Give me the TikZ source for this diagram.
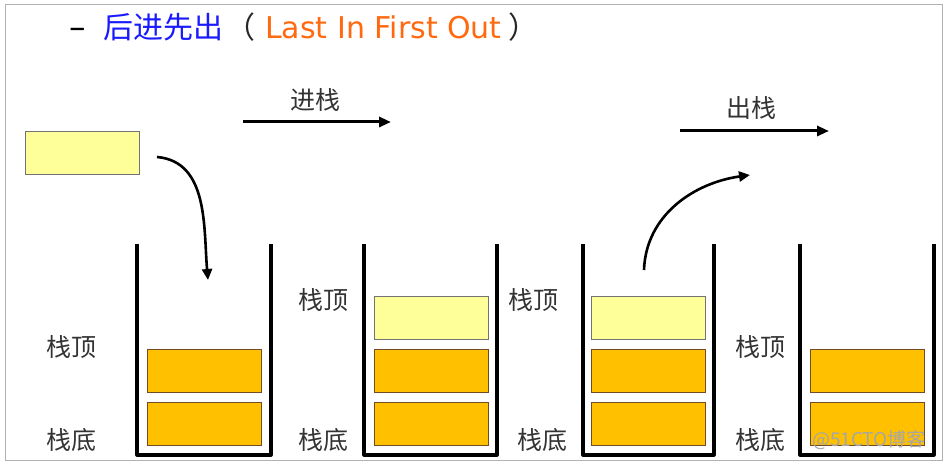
\documentclass[tikz,border=0pt]{standalone}
\usepackage{fontspec}
\setmainfont{Noto Sans CJK SC}
\newfontfamily\latinfont{DejaVu Sans}
\usetikzlibrary{arrows.meta, positioning}
\definecolor{newyellow}{HTML}{FFFF99}
\definecolor{stackorange}{HTML}{FFC000}
\definecolor{titleblue}{HTML}{1A1AFF}
\definecolor{titleorange}{HTML}{FF6A10}

\begin{document}
\begin{tikzpicture}[
  x=1pt, y=1pt,
  item/.style={draw=gray!90!black, line width=1pt, minimum width=114pt, minimum height=43pt, inner sep=0pt},
  newitem/.style={item, fill=newyellow},
  olditem/.style={item, fill=stackorange, draw=black!40!brown},
  tag/.style={font=\fontsize{25}{30}\selectfont, text=black!80, inner sep=0pt},
  headpart/.style={anchor=base west, inner sep=0pt, font=\fontsize{30}{36}\selectfont},
  tank/.style={line width=3.2pt, line join=round, line cap=butt},
  arr/.style={-{Triangle[length=12pt,width=10pt]}, line width=3pt},
  curv/.style={-{Triangle[length=11pt,width=10pt]}, line width=2.6pt}
]
  \useasboundingbox (0,0) rectangle (950,470);
  \draw[gray!60, line width=1pt] (5,9) rectangle (942,465);

  % title
  \node[headpart, font=\latinfont\fontsize{33}{36}\selectfont] (dash) at (69,431) {–};
  \node[headpart, text=titleblue] (zh) at (103,431) {后进先出};
  \node[headpart, text=black!85] (lpar) at (225,431) {（};
  \node[headpart, text=titleorange, font=\latinfont\fontsize{30}{36}\selectfont] (en) at (265,431) {Last In First Out};
  \node[headpart, text=black!85] (rpar) at (508,431) {）};

  % the four stacks
  \foreach \l/\r in {137/271, 364/497, 583/714, 800/934}
    \draw[tank] (\l,226) -- (\l,15) -- (\r,15) -- (\r,226);

  % new element
  \node[newitem] (new) at (82,317) {};

  % stack 1
  \node[olditem] (s1a) at (204.5,46) {};
  \node[olditem, above=9pt of s1a] (s1b) {};
  % stack 2
  \node[olditem] (s2a) at (431,46) {};
  \node[olditem, above=9pt of s2a] (s2b) {};
  \node[newitem, above=9pt of s2b] (s2c) {};
  % stack 3
  \node[olditem] (s3a) at (648.5,46) {};
  \node[olditem, above=9pt of s3a] (s3b) {};
  \node[newitem, above=9pt of s3b] (s3c) {};
  % stack 4
  \node[olditem] (s4a) at (867,46) {};
  \node[olditem, above=9pt of s4a] (s4b) {};

  % top / bottom labels
  \node[tag] (top1) at (71,123) {栈顶};
  \node[tag] (bot1) at (71,30) {栈底};
  \node[tag] (top2) at (323,170) {栈顶};
  \node[tag] (bot2) at (323,30) {栈底};
  \node[tag] (top3) at (533,170) {栈顶};
  \node[tag] (bot3) at (542,30) {栈底};
  \node[tag] (top4) at (760,123) {栈顶};
  \node[tag] (bot4) at (760,30) {栈底};

  % push / pop
  \node[tag] (pushlbl) at (315,370) {进栈};
  \coordinate (push0) at (243,348);
  \coordinate (push1) at (391,348);
  \draw[arr] (push0) -- (push1);
  \node[tag] (poplbl) at (751,362) {出栈};
  \coordinate (pop0) at (680,339);
  \coordinate (pop1) at (829,339);
  \draw[arr] (pop0) -- (pop1);

  \coordinate (pushstart) at (157,313);
  \coordinate (pushend) at (208,190);
  \draw[curv] (pushstart) to[out=-5, in=95] (pushend);
  \coordinate (popstart) at (644,200);
  \coordinate (popend) at (750,295);
  \draw[curv] (popstart) to[out=88, in=188] (popend);

  % watermark
  \node[font=\fontsize{19}{22}\selectfont, text=black!35, inner sep=0pt] (mark) at (869,30) {@51CTO博客};
\end{tikzpicture}
\end{document}
